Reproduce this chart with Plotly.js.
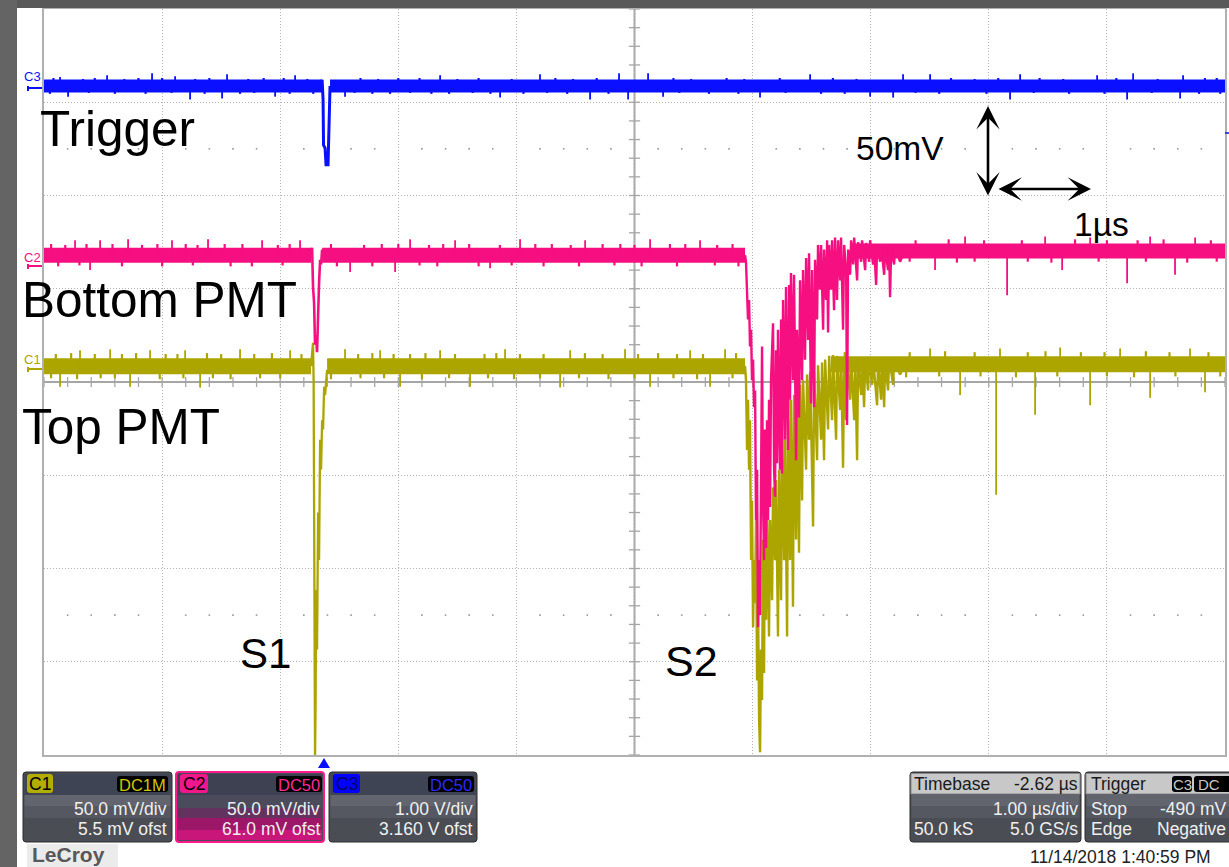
<!DOCTYPE html>
<html><head><meta charset="utf-8">
<script src="https://cdn.plot.ly/plotly-3.0.1.min.js"></script>
<style>html,body{margin:0;padding:0;background:#fff;overflow:hidden}#chart{width:1229px;height:867px}</style>
</head><body><div id="chart"></div>
<script>
// ---- axes: time in µs relative to trigger, vertical in screen divisions ----
const X_RANGE = [-2.38, 7.62];
const Y_RANGE = [-4, 4];
const X_DIV0 = -2.38;          // left screen edge (µs)
const X_CENTER = 2.62;         // screen centre (µs)

// ---- C3 : Trigger (blue) ----
const c3_band_t = [-2.38, -0.025, null, 0.042, 7.62];
const c3_band_v = [3.175, 3.175, null, 3.175, 3.175];
const c3_evt_t = [-0.034, -0.025, -0.017, -0.013, 0.000, 0.008, 0.025, 0.034, 0.042];
const c3_evt_v = [3.175, 3.24, 3.03, 2.54, 2.51, 2.33, 2.33, 3.03, 3.175];
const c3_spk_t = [-2.244, -1.846, -1.465, -1.270, -0.830, -0.254, 0.974, 1.820, 2.489, 2.735, 4.107, 4.894, 5.123, 5.885, 6.537, 6.842, 7.265,
                  -2.176, -1.143, -0.872, -0.423, 0.169, 1.482, 2.244, 2.566, 2.862, 3.683, 4.615, 4.810, 5.800, 6.791, 7.240];
const c3_spk_v = [3.27, 3.29, 3.31, 3.28, 3.30, 3.29, 3.29, 3.30, 3.31, 3.31, 3.30, 3.30, 3.30, 3.30, 3.29, 3.31, 3.29,
                  3.06, 3.03, 3.04, 3.06, 3.06, 3.05, 3.03, 3.03, 3.06, 3.05, 3.06, 3.05, 3.03, 3.03, 3.04];
// small noise excursions on the trace edges
const c3_nz_t = [-2.30, -2.05, -1.95, -1.70, -1.58, -1.38, -1.10, -0.98, -0.65, -0.52, -0.35, -0.15, 0.30, 0.45, 0.62, 0.80, 1.12, 1.30, 1.58, 1.95,
                 2.10, 2.30, 2.95, 3.10, 3.40, 3.55, 3.85, 4.30, 4.50, 5.30, 5.50, 5.70, 6.05, 6.25, 6.70, 7.05, 7.45, 7.55,
                 -2.33, -2.00, -1.78, -1.52, -1.30, -1.02, -0.72, -0.60, -0.30, -0.10, 0.25, 0.40, 0.55, 0.72, 0.90, 1.05, 1.25, 1.40, 1.68, 1.88,
                 2.05, 2.40, 3.00, 3.25, 3.50, 3.90, 4.20, 4.40, 5.00, 5.20, 5.60, 6.00, 6.30, 6.60, 7.00, 7.40, 7.58];
const c3_nz_v = [3.26, 3.25, 3.26, 3.25, 3.26, 3.26, 3.25, 3.26, 3.25, 3.26, 3.26, 3.25, 3.26, 3.25, 3.26, 3.26, 3.25, 3.26, 3.25, 3.26,
                 3.25, 3.26, 3.26, 3.25, 3.26, 3.25, 3.26, 3.26, 3.25, 3.26, 3.25, 3.26, 3.26, 3.25, 3.26, 3.25, 3.26, 3.26,
                 3.09, 3.10, 3.09, 3.09, 3.10, 3.09, 3.09, 3.10, 3.09, 3.09, 3.10, 3.09, 3.09, 3.10, 3.09, 3.09, 3.10, 3.09, 3.09, 3.10,
                 3.09, 3.09, 3.10, 3.09, 3.09, 3.10, 3.09, 3.09, 3.10, 3.09, 3.09, 3.10, 3.09, 3.09, 3.10, 3.09, 3.09];

// ---- C2 : Bottom PMT (pink) ----
const c2_band_t = [-2.38, -0.119, null, -0.025, 3.556, null, 4.446, 7.62];
const c2_band_v = [1.36, 1.36, null, 1.36, 1.36, null, 1.405, 1.405];
const c2_s1_t = [-0.119, -0.110, -0.102, -0.093, -0.085, -0.076, -0.068, -0.059, -0.051, -0.042, -0.034, -0.025];
const c2_s1_v = [1.36, 1.44, 1.02, 0.85, 0.40, 0.50, 0.32, 0.80, 1.06, 1.31, 1.26, 1.42];
const c2_s2_t = [3.556,3.564,3.581,3.590,3.598,3.607,3.615,3.624,3.632,3.641,
                 3.649,3.658,3.666,3.675,3.683,3.691,3.700,3.708,3.717,3.725,
                 3.734,3.742,3.751,3.759,3.768,3.776,3.793,3.802,3.810,3.818,
                 3.827,3.835,3.852,3.861,3.869,3.878,3.895,3.903,3.920,3.929,
                 3.937,3.945,3.962,3.971,3.988,3.996,4.013,4.022,4.039,4.047,
                 4.064,4.073,4.090,4.098,4.115,4.124,4.141,4.149,4.166,4.174,
                 4.191,4.200,4.217,4.225,4.242,4.251,4.259,4.268,4.284,4.293,
                 4.310,4.318,4.335,4.344,4.361,4.369,4.386,4.395,4.412,4.420,
                 4.429,4.446,4.454,4.471,4.480,4.505,4.513,4.539,4.547,4.573,
                 4.581,4.607,4.615,4.640,4.649,4.666,4.674,4.700,4.708,4.734,
                 4.742,4.767,4.776,4.784,4.793,4.818,4.827,4.869,4.911];
const c2_s2_v = [1.36,1.29,0.67,0.88,0.38,0.56,0.02,0.24,-0.27,-0.09,
                 -1.48,-0.94,-2.63,-1.91,-2.50,-0.62,0.38,-1.27,-1.91,-0.51,
                 -1.78,-0.41,-1.48,-0.19,-1.34,0.02,0.63,-0.94,-1.23,0.34,
                 -0.87,0.56,-0.94,0.67,-0.98,0.88,-0.62,1.02,-0.73,1.04,
                 -0.19,1.17,0.02,1.15,-0.84,0.56,-0.38,1.09,0.02,1.20,
                 0.24,1.33,0.45,1.38,-0.23,1.20,-0.27,1.31,0.67,1.47,
                 0.99,1.47,0.56,1.42,0.88,1.52,0.53,1.47,0.99,1.52,
                 0.77,1.55,0.88,1.52,1.09,1.55,0.56,1.47,1.20,-0.46,
                 1.42,1.15,1.52,1.26,1.55,1.09,1.50,1.29,1.52,1.20,
                 1.49,1.29,1.52,1.26,1.47,1.04,1.44,1.29,1.47,1.15,
                 1.44,1.20,1.42,0.91,1.42,1.26,1.44,1.29,1.42];
const c2_spk_t = [-2.117, -1.905, -1.668, -1.296, -0.991, -0.533, -0.212, 0.720, 1.101, 1.651, 2.202, 2.752, 3.175,
                  5.419, 6.097, 6.478, 6.986, 7.367,
                  -1.990, 0.212, 0.593, 1.397, 5.165, 5.775, 6.241, 6.791, 7.197];
const c2_spk_v = [1.52, 1.52, 1.53, 1.52, 1.53, 1.52, 1.52, 1.53, 1.52, 1.53, 1.52, 1.53, 1.52,
                  1.56, 1.56, 1.55, 1.56, 1.55,
                  1.20, 1.18, 1.18, 1.22, 1.20, 0.93, 1.20, 1.06, 1.15];
const c2_nz_t = [-2.32, -2.20, -2.02, -1.80, -1.55, -1.42, -1.18, -1.08, -0.85, -0.70, -0.40, -0.30, 0.05, 0.33, 0.48, 0.62, 0.88, 1.00, 1.22, 1.48,
                 1.78, 1.92, 2.08, 2.35, 2.50, 2.62, 2.92, 3.05, 3.32, 3.45, 5.00, 5.28, 5.58, 5.90, 6.35, 6.62, 6.88, 7.10, 7.50,
                 -2.26, -2.08, -1.72, -1.38, -1.12, -0.80, -0.62, -0.36, 0.10, 0.40, 0.80, 0.95, 1.30, 1.58, 1.85, 2.15, 2.45, 2.68, 2.98, 3.30, 3.50,
                 4.95, 5.35, 5.50, 5.95, 6.15, 6.55, 6.95, 7.30, 7.55];
const c2_nz_v = [1.48, 1.47, 1.48, 1.48, 1.47, 1.48, 1.48, 1.47, 1.48, 1.48, 1.47, 1.48, 1.48, 1.47, 1.48, 1.48, 1.47, 1.48, 1.48, 1.47,
                 1.48, 1.48, 1.47, 1.48, 1.48, 1.47, 1.48, 1.48, 1.47, 1.48, 1.52, 1.53, 1.52, 1.52, 1.53, 1.52, 1.52, 1.53, 1.52,
                 1.24, 1.25, 1.24, 1.24, 1.25, 1.24, 1.24, 1.25, 1.24, 1.24, 1.25, 1.24, 1.24, 1.25, 1.24, 1.24, 1.25, 1.24, 1.24, 1.25, 1.24,
                 1.29, 1.28, 1.29, 1.29, 1.28, 1.29, 1.29, 1.28, 1.29];

// ---- C1 : Top PMT (olive) ----
const c1_band_t = [-2.38, -0.119, null, 0.017, 3.556, null, 4.284, 7.62];
const c1_band_v = [0.17, 0.17, null, 0.17, 0.17, null, 0.19, 0.19];
const c1_s1_t = [-0.119, -0.110, -0.102, -0.097, -0.093, -0.085, -0.080, -0.076, -0.068, -0.059,
                 -0.051, -0.042, -0.034, -0.025, -0.017, -0.008, 0.000, 0.008, 0.017];
const c1_s1_v = [0.17, 0.34, 0.42, 0.02, -2.34, -4.05, -3.41, -2.23, -2.87, -1.40,
                 -1.91, -0.62, -0.94, -0.41, -0.51, -0.05, -0.14, 0.02, 0.13];
const c1_s2_t = [3.556,3.564,3.573,3.581,3.590,3.598,3.607,3.615,3.624,3.632,
                 3.641,3.649,3.658,3.666,3.675,3.683,3.691,3.700,3.708,3.717,
                 3.725,3.734,3.742,3.759,3.768,3.785,3.793,3.810,3.818,3.835,
                 3.844,3.861,3.869,3.886,3.895,3.912,3.920,3.937,3.945,3.962,
                 3.971,3.988,3.996,4.013,4.022,4.039,4.047,4.073,4.081,4.098,
                 4.107,4.132,4.141,4.166,4.174,4.200,4.208,4.225,4.234,4.259,
                 4.268,4.293,4.301,4.327,4.335,4.361,4.369,4.386,4.395,4.412,
                 4.420,4.446,4.454,4.480,4.488,4.505,4.513,4.539,4.547,4.564,
                 4.573,4.598,4.607,4.632,4.640,4.674,4.683,4.708,4.717,4.734,
                 4.742,4.767,4.776,4.810,4.818,4.869,4.911];
const c1_s2_v = [0.17,0.02,-0.73,-0.19,-0.94,-0.41,-1.91,-1.27,-2.63,-1.91,
                 -2.37,-1.48,-3.20,-2.34,-3.62,-3.97,-2.87,-3.41,-1.69,-3.12,
                 -1.13,-2.55,-1.27,-2.73,-1.48,-2.34,-1.13,-1.91,-1.05,-2.73,
                 -0.94,-2.34,-0.55,-1.91,-0.62,-2.73,-0.41,-1.91,-0.19,-2.41,
                 -0.14,-1.69,-0.05,-1.83,-0.03,-1.27,0.02,-0.94,0.08,-0.62,
                 0.11,-1.55,0.11,-0.84,0.18,-0.62,0.21,-0.84,0.24,-0.51,
                 0.28,-0.41,0.29,-0.62,0.28,-0.30,0.26,-0.92,0.21,-0.41,
                 0.24,-0.19,0.26,-0.41,0.24,-0.84,0.21,-0.14,0.26,-0.27,
                 0.24,-0.09,0.27,-0.03,0.26,-0.25,0.24,-0.19,0.26,-0.27,
                 0.24,-0.09,0.26,-0.03,0.24,0.08,0.20];
const c1_spk_t = [-2.075, -1.820, -1.482, -1.185, -0.720, -0.296, 0.169, 0.466, 0.974, 1.524, 2.075, 2.540, 3.091, 3.387,
                  5.123, 5.715, 6.224, 6.732, 7.324,
                  -2.244, -1.651, -1.058, 0.635, 1.228, 1.990, 2.752, 3.260,
                  5.377, 5.682, 6.012, 6.478, 6.986, 7.451];
const c1_spk_v = [0.34, 0.35, 0.34, 0.34, 0.35, 0.34, 0.35, 0.34, 0.34, 0.35, 0.34, 0.35, 0.34, 0.35,
                  0.36, 0.36, 0.37, 0.36, 0.36,
                  -0.05, -0.05, -0.06, -0.05, -0.05, -0.06, -0.05, -0.05,
                  -0.14, -1.21, -0.35, -0.25, -0.17, -0.11];
const c1_nz_t = [-2.28, -2.15, -1.95, -1.72, -1.60, -1.35, -1.25, -1.00, -0.88, -0.60, -0.45, -0.20, 0.28, 0.40, 0.58, 0.72, 0.85, 1.10, 1.35, 1.45,
                 1.65, 1.85, 2.20, 2.35, 2.65, 2.82, 2.98, 3.20, 3.48, 4.40, 4.95, 5.25, 5.50, 5.95, 6.10, 6.40, 6.60, 6.95, 7.15, 7.48,
                 -2.32, -2.10, -1.90, -1.78, -1.40, -1.20, -0.95, -0.80, -0.55, -0.38, 0.05, 0.30, 0.50, 0.82, 1.05, 1.38, 1.60, 1.82, 2.15, 2.40,
                 2.62, 2.95, 3.15, 3.45, 4.55, 4.92, 5.20, 5.55, 5.85, 6.20, 6.62, 6.85, 7.20, 7.58];
const c1_nz_v = [0.30, 0.31, 0.30, 0.30, 0.31, 0.30, 0.30, 0.31, 0.30, 0.30, 0.31, 0.30, 0.30, 0.31, 0.30, 0.30, 0.31, 0.30, 0.30, 0.31,
                 0.30, 0.30, 0.31, 0.30, 0.30, 0.31, 0.30, 0.30, 0.31, 0.32, 0.32, 0.33, 0.32, 0.32, 0.33, 0.32, 0.32, 0.33, 0.32, 0.32,
                 0.04, 0.03, 0.04, 0.04, 0.03, 0.04, 0.04, 0.03, 0.04, 0.04, 0.03, 0.04, 0.04, 0.03, 0.04, 0.04, 0.03, 0.04, 0.04, 0.03,
                 0.04, 0.04, 0.03, 0.04, 0.06, 0.05, 0.06, 0.06, 0.05, 0.06, 0.06, 0.05, 0.06, 0.06];

// ---- colours ----
const COL_C1 = '#aca500', COL_C2 = '#f60f80', COL_C3 = '#0a10ff';
const GRID = '#b3b3b3', AXIS = '#a6a6a6';

// ---- page geometry helpers (for decorations only) ----
const W = 1229, H = 867, ML = 44, MR = 4, MT = 9, MB = 112;
const PW = W - ML - MR, PH = H - MT - MB;
const px = x => (x - ML) / PW;
const py = y => (H - MB - y) / PH;

function levelAt(bt, bv, t) {
  let best = null, bd = 1e9;
  for (let i = 0; i < bt.length - 1; i++) {
    if (bt[i] === null || bt[i + 1] === null) continue;
    if (t >= bt[i] && t <= bt[i + 1]) return bv[i] + (bv[i + 1] - bv[i]) * (t - bt[i]) / (bt[i + 1] - bt[i]);
    const d = Math.min(Math.abs(t - bt[i]), Math.abs(t - bt[i + 1]));
    if (d < bd) { bd = d; best = bv[i]; }
  }
  return best;
}
function line(x, y, color, width) {
  return {type: 'scatter', mode: 'lines', x, y, line: {color, width}, hoverinfo: 'skip', showlegend: false, connectgaps: false};
}
function spikes(bt, bv, st, sv, color, width) {
  const x = [], y = [];
  st.forEach((t, i) => { x.push(t, t, null); y.push(levelAt(bt, bv, t), sv[i], null); });
  return line(x, y, color, width);
}

// ---- graticule decorations ----
const tickH_x = [], tickH_y = [], tickV_x = [], tickV_y = [], dots_x = [], dots_y = [];
for (let k = 0; k <= 50; k++) { const t = X_DIV0 + k * 0.2; tickH_x.push(t); tickH_y.push(0);
  if (k % 5 !== 0) { dots_x.push(t, t); dots_y.push(2.5, -2.5); } }
for (let k = 0; k <= 40; k++) { tickV_x.push(X_CENTER); tickV_y.push(-4 + k * 0.2); }

const traces = [
  {type: 'scatter', mode: 'markers', x: tickH_x, y: tickH_y, hoverinfo: 'skip', showlegend: false,
   marker: {symbol: 'line-ns', size: 7, color: AXIS, line: {color: AXIS, width: 1.3}}},
  {type: 'scatter', mode: 'markers', x: tickV_x, y: tickV_y, hoverinfo: 'skip', showlegend: false,
   marker: {symbol: 'line-ew', size: 8, color: AXIS, line: {color: AXIS, width: 1.3}}},
  {type: 'scatter', mode: 'markers', x: dots_x, y: dots_y, hoverinfo: 'skip', showlegend: false,
   marker: {symbol: 'square', size: 1.6, color: '#9a9a9a', line: {width: 0}}},
  // C1
  line(c1_band_t, c1_band_v, COL_C1, 16),
  spikes(c1_band_t, c1_band_v, c1_spk_t, c1_spk_v, COL_C1, 1.8),
  spikes(c1_band_t, c1_band_v, c1_nz_t, c1_nz_v, COL_C1, 2.2),
  line(c1_s1_t, c1_s1_v, COL_C1, 2.3),
  line(c1_s2_t, c1_s2_v, COL_C1, 2.4),
  // C2
  line(c2_band_t, c2_band_v, COL_C2, 15),
  spikes(c2_band_t, c2_band_v, c2_spk_t, c2_spk_v, COL_C2, 1.8),
  spikes(c2_band_t, c2_band_v, c2_nz_t, c2_nz_v, COL_C2, 2.2),
  line(c2_s1_t, c2_s1_v, COL_C2, 2.6),
  line(c2_s2_t, c2_s2_v, COL_C2, 2.4),
  // C3
  line(c3_band_t, c3_band_v, COL_C3, 13),
  spikes(c3_band_t, c3_band_v, c3_spk_t, c3_spk_v, COL_C3, 1.8),
  spikes(c3_band_t, c3_band_v, c3_nz_t, c3_nz_v, COL_C3, 2.2),
  line(c3_evt_t, c3_evt_v, COL_C3, 3)
];

// ---- shapes ----
const shapes = [];
function rect(x0, y0, x1, y1, fill, lc, lw) {
  shapes.push({type: 'rect', xref: 'paper', yref: 'paper', x0: px(x0), x1: px(x1), y0: py(y1), y1: py(y0),
    fillcolor: fill, line: {color: lc || fill, width: lw || 0}, layer: 'above'});
}
function rrect(x0, y0, x1, y1, r, fill, lc, lw) {
  const P = (x, y) => px(x) + ',' + py(y);
  const path = 'M' + P(x0 + r, y0) + ' L' + P(x1 - r, y0) + ' Q' + P(x1, y0) + ' ' + P(x1, y0 + r) +
    ' L' + P(x1, y1 - r) + ' Q' + P(x1, y1) + ' ' + P(x1 - r, y1) + ' L' + P(x0 + r, y1) +
    ' Q' + P(x0, y1) + ' ' + P(x0, y1 - r) + ' L' + P(x0, y0 + r) + ' Q' + P(x0, y0) + ' ' + P(x0 + r, y0) + ' Z';
  shapes.push({type: 'path', xref: 'paper', yref: 'paper', path, fillcolor: fill,
    line: {color: lc || fill, width: lw || 0}, layer: 'above'});
}
function seg(x0, y0, x1, y1, color, width) {
  shapes.push({type: 'line', xref: 'paper', yref: 'paper', x0: px(x0), x1: px(x1), y0: py(y0), y1: py(y1),
    line: {color, width}, layer: 'above'});
}
// centre vertical graticule line
shapes.push({type: 'line', xref: 'x', yref: 'paper', x0: X_CENTER, x1: X_CENTER, y0: 0, y1: 1,
  line: {color: AXIS, width: 2}, layer: 'below'});
// frame
rect(0, 0, W, 8, '#595959');
rect(0, 0, 17, H, '#646464');
// channel markers
seg(27, 88, 42, 88, COL_C3, 2); seg(28, 86, 28, 91, COL_C3, 2);
seg(27, 266, 42, 266, COL_C2, 2); seg(28, 264, 28, 269, COL_C2, 2);
seg(27, 369, 42, 369, COL_C1, 2); seg(28, 367, 28, 372, COL_C1, 2);
seg(1225, 133, 1229, 133, COL_C3, 1.5);
// trigger position marker
shapes.push({type: 'path', xref: 'paper', yref: 'paper', fillcolor: COL_C3, line: {width: 0}, layer: 'above',
  path: 'M' + px(318) + ',' + py(768) + ' L' + px(330) + ',' + py(768) + ' L' + px(324) + ',' + py(758) + ' Z'});

// info panels
function panelBody(x0, x1, border, bw) {
  rrect(x0, 772, x1, 842, 3, '#4b4e57', border, bw);
  rect(x0 + 1.5, 773.5, x1 - 1.5, 795, '#3f4454');
  rect(x0 + 1.5, 795, x1 - 1.5, 806, '#62656e');
  rect(x0 + 1.5, 806, x1 - 1.5, 818, '#555860');
  rect(x0 + 1.5, 818, x1 - 1.5, 840.5, '#4a4d54');
}
panelBody(23, 172, '#2b2b2b', 1);
rrect(176, 772, 324, 842, 3, '#4a4a5a', '#ff1a8c', 2);
rect(178, 774, 322, 795, '#3d4152');
rect(178, 795, 322, 808, '#4b4b5b');
rect(178, 808, 322, 818, '#63325f');
rect(178, 818, 322, 830, '#9c1767');
rect(178, 830, 322, 840, '#c8167a');
panelBody(329, 477, '#2b2b2b', 1);
panelBody(910, 1081, '#2b2b2b', 1);
panelBody(1085, 1240, '#2b2b2b', 1);
rect(911, 773.5, 1080, 794, '#c8c8c8', '#888', 1);
rect(1086, 773.5, 1239, 794, '#c8c8c8', '#888', 1);
rrect(27, 774, 53, 793, 3, '#b2ad00');
rrect(180, 774, 208, 793, 3, '#f0168c');
rrect(333, 774, 360, 793, 3, '#0000ff');
rrect(117, 776, 168, 792, 3, '#000');
rrect(276, 776, 322, 792, 3, '#000');
rrect(428, 776, 474, 792, 3, '#000');
rrect(1172, 776, 1192, 792, 3, '#000');
rrect(1194, 776, 1236, 792, 3, '#000');
rect(27, 844, 118, 867, '#ebebeb');

// ---- annotations ----
const FONT = 'Liberation Sans, Arial, sans-serif';
const ann = [];
function txt(x, y, text, size, color, anchor, extra) {
  ann.push(Object.assign({xref: 'paper', yref: 'paper', x: px(x), y: py(y), text, showarrow: false,
    xanchor: anchor || 'left', yanchor: 'middle', borderpad: 0,
    font: {family: FONT, size, color}}, extra || {}));
}
txt(39, 128, 'Trigger', 49.5, '#000');
txt(21, 299, 'Bottom PMT', 49.5, '#000');
txt(21, 427, 'Top PMT', 49.5, '#000');
txt(239, 653, 'S1', 42, '#000');
txt(664, 661, 'S2', 43, '#000');
txt(855, 148, '50mV', 33.5, '#000');
txt(1073, 225, '1µs', 33.5, '#000');
txt(32, 77, 'C3', 13, COL_C3, 'center');
txt(32, 257, 'C2', 13, COL_C2, 'center');
txt(32, 359, 'C1', 13, COL_C1, 'center');
// arrows
ann.push({xref: 'paper', yref: 'paper', x: px(988), y: py(106), ax: 0, ay: 91, text: '', showarrow: true,
  arrowside: 'end+start', arrowhead: 3, startarrowhead: 3, arrowsize: 1.5, startarrowsize: 1.5, arrowwidth: 2.6, arrowcolor: '#000'});
ann.push({xref: 'paper', yref: 'paper', x: px(1091), y: py(189), ax: -94, ay: 0, text: '', showarrow: true,
  arrowside: 'end+start', arrowhead: 3, startarrowhead: 3, arrowsize: 1.5, startarrowsize: 1.5, arrowwidth: 2.6, arrowcolor: '#000'});
// panel texts
const PT = '#f0f0f0', PS = 17.5;
txt(40, 784, 'C1', PS, '#000', 'center');
txt(142.5, 784.5, 'DC1M', 16.5, '#cfc700', 'center');
txt(168, 809, '50.0 mV/div', PS, PT, 'right');
txt(168, 829, '5.5 mV ofst', PS, PT, 'right');
txt(194, 784, 'C2', PS, '#000', 'center');
txt(299, 784.5, 'DC50', 16.5, '#ff2a95', 'center');
txt(321, 809, '50.0 mV/div', PS, PT, 'right');
txt(321, 829, '61.0 mV ofst', PS, PT, 'right');
txt(346.5, 784, 'C3', PS, '#00006e', 'center');
txt(451, 784.5, 'DC50', 16.5, '#2a2aff', 'center');
txt(474, 809, '1.00 V/div', PS, PT, 'right');
txt(474, 829, '3.160 V ofst', PS, PT, 'right');
txt(913, 784, 'Timebase', PS, '#1a1a1a', 'left');
txt(1079, 784, '-2.62 µs', PS, '#1a1a1a', 'right');
txt(1079, 809, '1.00 µs/div', PS, PT, 'right');
txt(913, 829, '50.0 kS', PS, PT, 'left');
txt(1079, 829, '5.0 GS/s', PS, PT, 'right');
txt(1090, 784, 'Trigger', PS, '#1a1a1a', 'left');
txt(1182, 784.5, 'C3', 15, '#c8c8c8', 'center');
txt(1197, 784.5, 'DC', 15, '#c8c8c8', 'left');
txt(1090, 809, 'Stop', PS, PT, 'left');
txt(1227, 809, '-490 mV', PS, PT, 'right');
txt(1090, 829, 'Edge', PS, PT, 'left');
txt(1227, 829, 'Negative', PS, PT, 'right');
txt(1120, 857, '11/14/2018 1:40:59 PM', 17.5, '#222', 'center');
txt(31, 854.5, '<b>LeCroy</b>', 21, '#585858', 'left');

const layout = {
  width: W, height: H, margin: {l: ML, r: MR, t: MT, b: MB, pad: 0},
  paper_bgcolor: '#ffffff', plot_bgcolor: '#ffffff', showlegend: false, hovermode: false,
  xaxis: {range: X_RANGE, tick0: X_DIV0, dtick: 1, showgrid: true, gridcolor: GRID, griddash: '1px,2px', gridwidth: 1,
    zeroline: false, showticklabels: false, ticks: '', showline: true, mirror: true, linecolor: '#b0b0b0', linewidth: 2, fixedrange: true},
  yaxis: {range: Y_RANGE, tick0: 0, dtick: 1, showgrid: true, gridcolor: GRID, griddash: '1px,2px', gridwidth: 1,
    zeroline: true, zerolinecolor: AXIS, zerolinewidth: 2, showticklabels: false, ticks: '', showline: true, mirror: true,
    linecolor: '#b0b0b0', linewidth: 2, fixedrange: true},
  shapes, annotations: ann
};
Plotly.newPlot('chart', traces, layout, {staticPlot: true, displayModeBar: false});
</script></body></html>
